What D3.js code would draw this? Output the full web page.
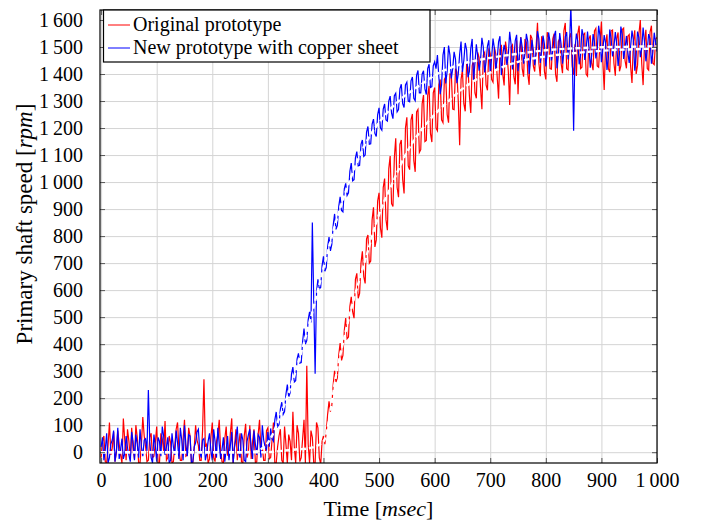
<!DOCTYPE html>
<html>
<head>
<meta charset="utf-8">
<script src="https://cdn.jsdelivr.net/npm/d3@7"></script>
<style>
  body { margin: 0; background: #fff; }
  svg { display: block; font-family: "Liberation Serif", "Times New Roman", serif; }
  .grid line { stroke: #d4d4d4; stroke-width: 1; }
  .grid path { display: none; }
  .ticks line { stroke: #555; stroke-width: 1; }
  .ticks path { display: none; }
  .ticks text { font-family: "Liberation Serif", "Times New Roman", serif; font-size: 20px; fill: #000; }
</style>
</head>
<body>
<div id="plot"></div>
<script>
// Primary shaft speed vs time, two prototypes (measured + fitted)

// sample spacing of the measured series (ms)
const sampleStep = 2.5;

// Original prototype, measured speed [rpm], one value every 2.5 ms from 0 to 1000 (one row = 25 ms)
const originalSpeed = [
  -20, 40, 60, -35, -40, 25, 110, -10, 15, 75,
  -35, 0, 80, 30, -10, -40, 125, 45, -30, 85,
  40, -25, 90, 10, -25, 100, 55, -40, -40, 30,
  130, 60, 20, -35, -30, 55, 70, -20, -15, 35,
  95, -40, -40, 70, 50, 5, 115, -30, -20, 60,
  35, -40, -35, 25, 85, 110, 10, -30, -30, 50,
  120, -15, -10, 90, 60, -40, -40, 15, 100, 45,
  25, -30, -30, 80, 270, 20, 30, -40, -25, 55,
  110, -20, -35, 40, 65, 120, 5, -35, -40, 50,
  95, -10, -15, 70, 125, -40, 20, 85, -30, 30,
  70, -35, -40, 60, 105, -20, 0, 100, -25, 40,
  85, -40, -35, 65, 120, 5, 15, -30, -30, 80,
  90, -25, -20, 45, 110, -40, -40, 20, 60, 85,
  -30, -40, 95, 30, -40, 65, 40, -30, 150, 20,
  -40, 100, 70, -35, -20, 50, 120, -40, 320, 30,
  -40, 80, 55, -40, -40, 110, 90, -20, -45, 40,
  60, 30, 74, 140, 188, 150, 172, 250, 301, 260,
  275, 360, 404, 340, 358, 450, 497, 420, 426, 540,
  575, 520, 496, 640, 662, 570, 588, 700, 744, 650,
  625, 790, 804, 700, 708, 860, 907, 760, 786, 930,
  960, 830, 794, 980, 1013, 860, 822, 1050, 1096, 920,
  910, 1090, 1162, 980, 944, 1140, 1156, 1010, 958, 1200,
  1240, 1060, 1046, 1230, 1252, 1080, 1038, 1260, 1269, 1110,
  1120, 1290, 1322, 1150, 1154, 1320, 1356, 1180, 1148, 1330,
  1350, 1200, 1190, 1360, 1380, 1230, 1220, 1380, 1390, 1250,
  1220, 1400, 1399, 1270, 1268, 1420, 1407, 1300, 1136, 1380,
  1415, 1290, 1262, 1440, 1424, 1320, 1256, 1430, 1453, 1330,
  1310, 1480, 1460, 1350, 1270, 1470, 1480, 1360, 1340, 1495,
  1475, 1380, 1370, 1500, 1474, 1390, 1309, 1490, 1508, 1400,
  1358, 1520, 1481, 1410, 1285, 1500, 1508, 1390, 1362, 1525,
  1325, 1470, 1537, 1420, 1390, 1530, 1517, 1400, 1360, 1545,
  1532, 1430, 1409, 1500, 1590, 1440, 1392, 1540, 1523, 1410,
  1380, 1555, 1536, 1420, 1418, 1530, 1549, 1400, 1371, 1520,
  1532, 1440, 1403, 1560, 1589, 1420, 1415, 1535, 1551, 1430,
  1397, 1510, 1393, 1550, 1579, 1420, 1425, 1545, 1551, 1400,
  1392, 1530, 1543, 1440, 1414, 1560, 1569, 1430, 1425, 1520,
  1594, 1450, 1341, 1510, 1547, 1420, 1407, 1560, 1563, 1440,
  1394, 1530, 1554, 1410, 1430, 1565, 1570, 1450, 1421, 1540,
  1546, 1430, 1367, 1520, 1562, 1400, 1432, 1550, 1600, 1440,
  1359, 1510, 1564, 1420, 1414, 1555, 1579, 1440, 1435, 1530,
  1535
];

// New prototype with copper sheet, measured speed [rpm], same sampling
const copperSpeed = [
  20, 55, -30, 10, 70, -40, -20, 30, 45, 80,
  -35, 5, 90, -25, 10, 50, -25, -5, 60, 15,
  -10, -35, 75, 40, -30, 65, 30, -20, 85, 20,
  -15, 45, 50, 5, 230, 40, -20, -40, 65, 25,
  -35, 55, 40, -15, 95, 60, -10, 20, 55, -40,
  -30, 70, 20, -10, 80, 35, -25, 90, 45, -30,
  100, 30, -15, 65, 60, -40, -35, 20, 35, 75,
  85, 0, -20, 45, 50, -30, -5, 40, 70, 5,
  -30, 85, 40, -20, 90, 30, -25, 10, 55, -35,
  10, 60, -30, 25, 75, -40, 20, 50, 95, -5,
  -20, 70, 45, -30, -35, 40, 65, 85, 15, -25,
  80, 30, -10, 65, 55, -20, 100, 45, 20, 10,
  75, 20, 88, 50, 41, 120, 149, 95, 102, 160,
  185, 140, 150, 215, 250, 205, 220, 290, 315, 260,
  265, 345, 366, 330, 332, 410, 458, 400, 414, 490,
  520, 480, 850, 560, 290, 595, 640, 605, 610, 690,
  725, 670, 683, 760, 796, 745, 769, 840, 882, 825,
  840, 910, 945, 895, 890, 975, 995, 950, 960, 1040,
  1070, 1005, 1009, 1090, 1113, 1060, 1062, 1140, 1156, 1095,
  1100, 1185, 1206, 1140, 1142, 1215, 1233, 1180, 1169, 1250,
  1275, 1200, 1192, 1270, 1289, 1230, 1226, 1300, 1318, 1255,
  1235, 1320, 1329, 1260, 1268, 1345, 1362, 1290, 1276, 1360,
  1370, 1300, 1297, 1375, 1389, 1310, 1301, 1395, 1413, 1330,
  1330, 1400, 1412, 1345, 1324, 1420, 1436, 1350, 1353, 1430,
  1445, 1420, 1470, 1390, 1325, 1360, 1470, 1500, 1365, 1410,
  1505, 1470, 1384, 1420, 1482, 1455, 1366, 1400, 1474, 1520,
  1408, 1450, 1515, 1490, 1388, 1410, 1495, 1530, 1378, 1440,
  1510, 1465, 1412, 1450, 1534, 1500, 1406, 1445, 1503, 1525,
  1400, 1460, 1531, 1495, 1417, 1455, 1519, 1540, 1396, 1470,
  1508, 1480, 1434, 1470, 1556, 1510, 1417, 1460, 1524, 1545,
  1410, 1470, 1536, 1500, 1438, 1475, 1549, 1520, 1400, 1455,
  1527, 1490, 1433, 1475, 1559, 1530, 1441, 1485, 1542, 1510,
  1428, 1480, 1554, 1520, 1450, 1485, 1540, 1560, 1421, 1470,
  1552, 1510, 1438, 1480, 1538, 1555, 1454, 1500, 1650, 1480,
  1190, 1495, 1550, 1520, 1436, 1470, 1566, 1540, 1452, 1490,
  1557, 1500, 1423, 1470, 1548, 1520, 1458, 1490, 1579, 1540,
  1444, 1490, 1544, 1515, 1415, 1460, 1565, 1530, 1465, 1500,
  1555, 1510, 1430, 1475, 1576, 1545, 1456, 1495, 1541, 1480,
  1441, 1500, 1561, 1525, 1412, 1470, 1557, 1535, 1462, 1495,
  1572, 1520, 1447, 1490, 1548, 1530, 1438, 1480, 1553, 1515,
  1483
];

// fitted curves (white dashed), knots every 25 ms
const fitTime = [0, 25, 50, 75, 100, 125, 150, 175, 200, 225, 250, 275, 300, 325, 350, 375, 400, 425, 450, 475,
  500, 525, 550, 575, 600, 625, 650, 675, 700, 725, 750, 775, 800, 825, 850, 875, 900, 925, 950, 975, 1000];
const originalFit = [0, 0, 0, 0, 0, 0, 0, 0, 0, 0, 0, 0, 0, 5, 10, 15, 40, 310, 530, 710,
  880, 1000, 1110, 1190, 1250, 1300, 1345, 1380, 1405, 1428, 1445, 1457, 1465, 1472, 1477, 1482, 1486, 1489, 1491, 1493, 1495];
const copperFit = [0, 0, 0, 0, 0, 0, 0, 0, 0, 0, 0, 2, 35, 150, 300, 480, 680, 870, 1020, 1140,
  1220, 1280, 1325, 1360, 1395, 1420, 1438, 1450, 1460, 1468, 1475, 1482, 1488, 1492, 1495, 1497, 1499, 1500, 1501, 1502, 1503];

// ticks
const xTicks = [0, 100, 200, 300, 400, 500, 600, 700, 800, 900, 1000];
const xTickLabels = ["0", "100", "200", "300", "400", "500", "600", "700", "800", "900", "1\u2009000"];
const yTicks = [0, 100, 200, 300, 400, 500, 600, 700, 800, 900, 1000, 1100, 1200, 1300, 1400, 1500, 1600];
const yTickLabels = ["0", "100", "200", "300", "400", "500", "600", "700", "800", "900", "1\u2009000",
  "1\u2009100", "1\u2009200", "1\u2009300", "1\u2009400", "1\u2009500", "1\u2009600"];

const seriesNames = ["Original prototype", "New prototype with copper sheet"];
const seriesColors = ["#ff0000", "#0000ff"];

// dimensions
const W = 702, H = 525;
const plot = {left: 100, right: 657, top: 10, bottom: 463};

const svg = d3.select("#plot")
  .append("svg")
  .attr("width", W)
  .attr("height", H);

// scales
const xScale = d3.scaleLinear().domain([-2, 1000]).range([plot.left, plot.right]);
const yScale = d3.scaleLinear().domain([-40, 1637]).range([plot.bottom, plot.top]);

// grid
svg.append("g")
  .attr("class", "grid")
  .attr("transform", "translate(0," + plot.bottom + ")")
  .call(d3.axisBottom(xScale).tickValues(xTicks).tickSize(-(plot.bottom - plot.top)).tickFormat(""));
svg.append("g")
  .attr("class", "grid")
  .attr("transform", "translate(" + plot.left + ",0)")
  .call(d3.axisLeft(yScale).tickValues(yTicks).tickSize(-(plot.right - plot.left)).tickFormat(""));

// clip to the axis box
svg.append("clipPath").attr("id", "clip")
  .append("rect")
  .attr("x", plot.left).attr("y", plot.top)
  .attr("width", plot.right - plot.left).attr("height", plot.bottom - plot.top);

const dataLayer = svg.append("g").attr("clip-path", "url(#clip)");

const measuredLine = d3.line()
  .x((d, i) => xScale(i * sampleStep))
  .y(d => yScale(d));

[originalSpeed, copperSpeed].forEach(function(series, k) {
  dataLayer.append("path")
    .datum(series)
    .attr("fill", "none")
    .attr("stroke", seriesColors[k])
    .attr("stroke-width", 1.2)
    .attr("d", measuredLine);
});

// fitted curves, white dashed
const fitLine = d3.line()
  .x((d, i) => xScale(fitTime[i]))
  .y(d => yScale(d))
  .curve(d3.curveMonotoneX);

[originalFit, copperFit].forEach(function(series) {
  dataLayer.append("path")
    .datum(series)
    .attr("fill", "none")
    .attr("stroke", "#fff")
    .attr("stroke-width", 2.4)
    .attr("stroke-dasharray", "5,3")
    .attr("d", fitLine);
});

// ticks (inward on all four sides)
svg.append("g")
  .attr("class", "ticks")
  .attr("transform", "translate(0," + plot.bottom + ")")
  .call(d3.axisBottom(xScale).tickValues(xTicks).tickSizeInner(-5).tickSizeOuter(0).tickPadding(10)
    .tickFormat((d, i) => xTickLabels[i]));
svg.append("g")
  .attr("class", "ticks")
  .attr("transform", "translate(0," + plot.top + ")")
  .call(d3.axisTop(xScale).tickValues(xTicks).tickSizeInner(-5).tickSizeOuter(0).tickFormat(""));
svg.append("g")
  .attr("class", "ticks")
  .attr("transform", "translate(" + plot.left + ",0)")
  .call(d3.axisLeft(yScale).tickValues(yTicks).tickSizeInner(-5).tickSizeOuter(0).tickPadding(17)
    .tickFormat((d, i) => yTickLabels[i]));
svg.append("g")
  .attr("class", "ticks")
  .attr("transform", "translate(" + plot.right + ",0)")
  .call(d3.axisRight(yScale).tickValues(yTicks).tickSizeInner(-5).tickSizeOuter(0).tickFormat(""));

// axis box
svg.append("rect")
  .attr("x", plot.left).attr("y", plot.top)
  .attr("width", plot.right - plot.left).attr("height", plot.bottom - plot.top)
  .attr("fill", "none")
  .attr("stroke", "#000")
  .attr("stroke-width", 1.2);

// axis labels
const xLabel = svg.append("text")
  .attr("x", (plot.left + plot.right) / 2)
  .attr("y", 516)
  .attr("text-anchor", "middle")
  .style("font-size", "22px");
xLabel.append("tspan").text("Time [");
xLabel.append("tspan").style("font-style", "italic").text("msec");
xLabel.append("tspan").text("]");

const yLabel = svg.append("text")
  .attr("transform", "translate(32,224) rotate(-90)")
  .attr("text-anchor", "middle")
  .style("font-size", "23px");
yLabel.append("tspan").text("Primary shaft speed [");
yLabel.append("tspan").style("font-style", "italic").text("rpm");
yLabel.append("tspan").text("]");

// legend
const legend = svg.append("g");
legend.append("rect")
  .attr("x", 103.5).attr("y", 10)
  .attr("width", 326.5).attr("height", 52)
  .attr("fill", "#fff")
  .attr("stroke", "#000")
  .attr("stroke-width", 1.2);

seriesNames.forEach(function(name, k) {
  const cy = 25 + k * 23;
  legend.append("line")
    .attr("x1", 108).attr("x2", 130)
    .attr("y1", cy).attr("y2", cy)
    .attr("stroke", seriesColors[k])
    .attr("stroke-width", 1);
  legend.append("text")
    .attr("x", 133)
    .attr("y", cy + 6)
    .style("font-size", "20px")
    .text(name);
});
</script>
</body>
</html>
